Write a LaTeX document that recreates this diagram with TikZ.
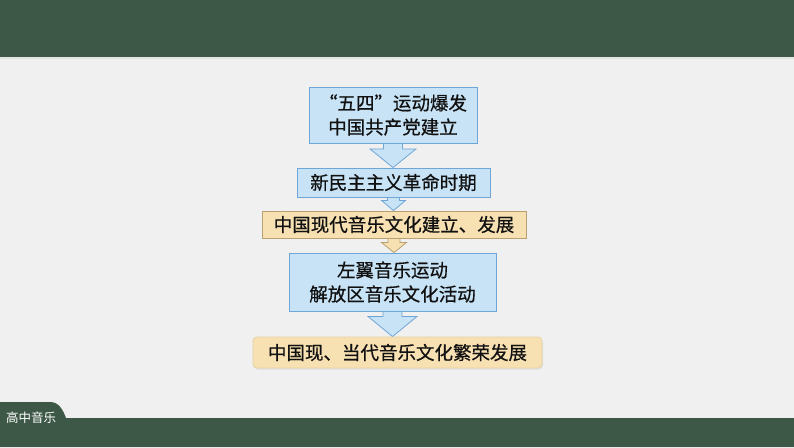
\documentclass[tikz,border=0pt]{standalone}
\usepackage{fontspec}
\usetikzlibrary{calc,shadows}
\newfontfamily\cjk{Noto Sans CJK SC}
\newfontfamily\cjkb[FakeBold=0.6]{Noto Sans CJK SC}
\definecolor{bgc}{HTML}{F0F0F0}
\definecolor{barc}{HTML}{3D5846}
\definecolor{bluef}{HTML}{C8E3F5}
\definecolor{blued}{HTML}{6FA6D8}
\definecolor{yelf}{HTML}{F7E0B2}
\definecolor{yeld}{HTML}{B9A070}
\definecolor{yeld2}{HTML}{E6D3A6}
\definecolor{txt}{HTML}{111111}
\pgfdeclarelayer{bottom}
\pgfdeclarelayer{background}
\pgfsetlayers{bottom,background,main}
\tikzset{
  box/.style={draw=blued, fill=bluef, line width=0.9pt, align=center, inner sep=0pt,
    font=\cjkb\fontsize{18.5}{24}\selectfont, text=txt},
  yelbox/.style={box, draw=yeld, fill=yelf},
  roundbox/.style={box, draw=yeld2, fill=yelf, rounded corners=4pt,
    drop shadow={shadow xshift=1pt, shadow yshift=-1.5pt, opacity=0.15}},
  bluearr/.style={draw=blued, fill=bluef, line width=0.8pt, line join=miter},
  yelarr/.style={draw=yeld, fill=yelf, line width=0.8pt, line join=miter},
}
% from, to, halfshaft, halfhead, drop, style
\newcommand\blockarr[6]{%
  \path[#6] let \p1=(#1.south), \p2=(#2.north) in
    (\x1-#3,\y1+4pt) -- (\x1-#3,\y1-#5) -- (\x1-#4,\y1-#5) -- (\x1,\y2)
    -- (\x1+#4,\y1-#5) -- (\x1+#3,\y1-#5) -- (\x1+#3,\y1+4pt) -- cycle;}
\begin{document}
\begin{tikzpicture}[x=1pt,y=-1pt]
\begin{pgfonlayer}{bottom}
  \fill[bgc] (0,0) rectangle (794,447);
  \fill[barc] (0,0) rectangle (794,57);
  \fill[white!85!barc] (0,57) rectangle (794,58.5);
  \fill[barc] (0,447) -- (0,402) -- (50,402)
    .. controls (59,402) and (63,410) .. (66,418) -- (794,418) -- (794,447) -- cycle;
\end{pgfonlayer}
\node[text=white, font=\cjk\fontsize{12.5}{14}\selectfont] (tag) at (31,418) {高中音乐};

\node[box, minimum width=168pt, minimum height=56pt] (b1) at (393,115)
  {“五四”运动爆发\\中国共产党建立};
\node[box, minimum width=193pt, minimum height=29pt] (b2) at (393.5,182.5)
  {新民主主义革命时期};
\node[yelbox, minimum width=264pt, minimum height=27pt] (b3) at (394,224.5)
  {中国现代音乐文化建立、发展};
\node[box, minimum width=207pt, minimum height=58pt] (b4) at (392.5,282)
  {左翼音乐运动\\解放区音乐文化活动};
\node[roundbox, minimum width=289pt, minimum height=31pt] (b5) at (397.5,352.5)
  {中国现、当代音乐文化繁荣发展};

\begin{pgfonlayer}{background}
  \blockarr{b1}{b2}{9.5pt}{23pt}{5.5pt}{bluearr}
  \blockarr{b2}{b3}{6pt}{12pt}{3pt}{bluearr}
  \blockarr{b3}{b4}{6pt}{12.5pt}{4pt}{yelarr}
  \blockarr{b4}{b5}{9.5pt}{24.5pt}{5pt}{bluearr}
\end{pgfonlayer}
\end{tikzpicture}
\end{document}
